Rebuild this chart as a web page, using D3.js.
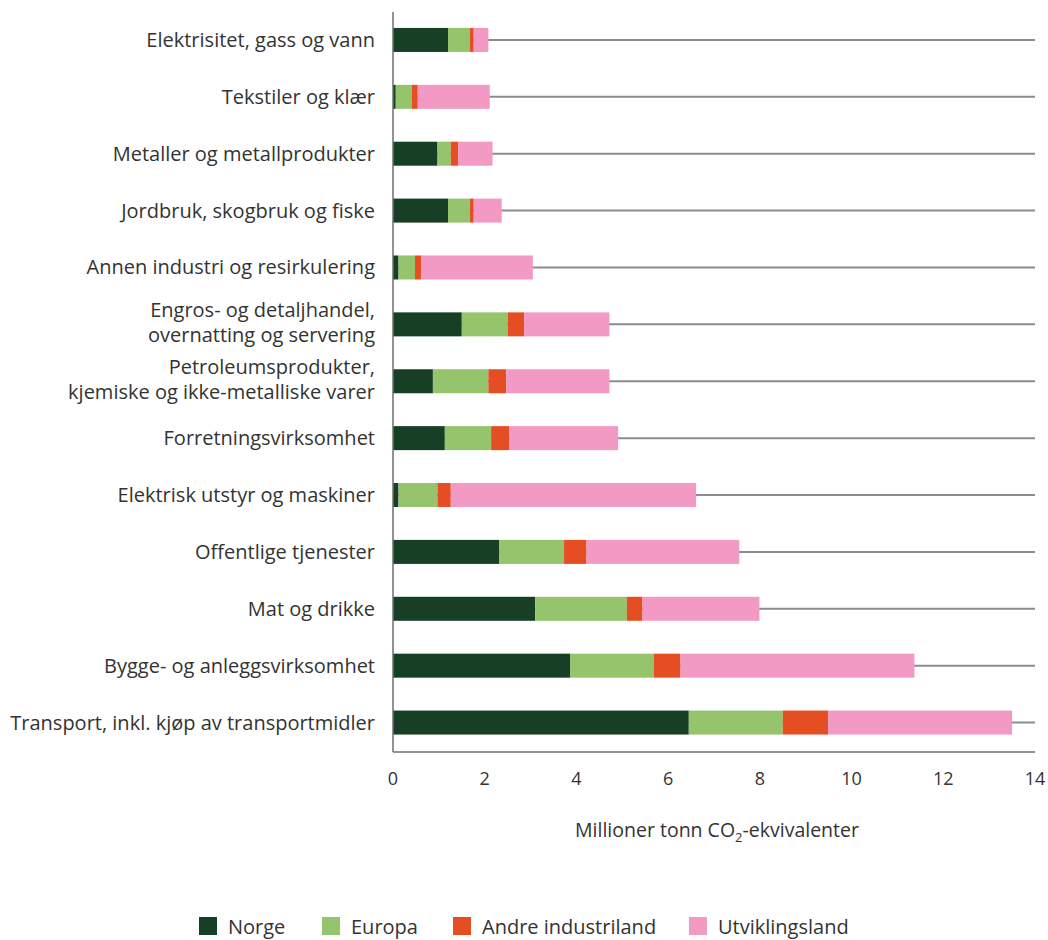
<!DOCTYPE html>
<html>
<head>
<meta charset="utf-8">
<script src="https://cdn.jsdelivr.net/npm/d3@7"></script>
<style>
  body { margin: 0; background: #fff; }
  svg { font-family: "Open Sans", "Noto Sans", sans-serif; }
</style>
</head>
<body>
<svg id="chart" width="1048" height="940"></svg>
<script>
const categories = [
  ["Elektrisitet, gass og vann"],
  ["Tekstiler og klær"],
  ["Metaller og metallprodukter"],
  ["Jordbruk, skogbruk og fiske"],
  ["Annen industri og resirkulering"],
  ["Engros- og detaljhandel,", "overnatting og servering"],
  ["Petroleumsprodukter,", "kjemiske og ikke-metalliske varer"],
  ["Forretningsvirksomhet"],
  ["Elektrisk utstyr og maskiner"],
  ["Offentlige tjenester"],
  ["Mat og drikke"],
  ["Bygge- og anleggsvirksomhet"],
  ["Transport, inkl. kjøp av transportmidler"]
];
const seriesNames = ["Norge", "Europa", "Andre industriland", "Utviklingsland"];
const norge   = [1.20, 0.06, 0.97, 1.20, 0.12, 1.50, 0.87, 1.13, 0.12, 2.32, 3.10, 3.86, 6.45];
const europa  = [0.48, 0.35, 0.29, 0.48, 0.36, 1.00, 1.21, 1.01, 0.85, 1.41, 2.00, 1.83, 2.05];
const andre   = [0.08, 0.13, 0.16, 0.08, 0.13, 0.36, 0.39, 0.40, 0.29, 0.49, 0.34, 0.58, 0.99];
const utvikl  = [0.32, 1.57, 0.75, 0.61, 2.44, 1.86, 2.25, 2.37, 5.35, 3.33, 2.55, 5.10, 4.01];
const xTicks = [0, 2, 4, 6, 8, 10, 12, 14];
const colors = ["#173f26", "#95c46c", "#e54e22", "#f29ac3"];

const svg = d3.select("#chart");
const x = d3.scaleLinear().domain([0, 14]).range([393, 1035]);
const y = d3.scalePoint().domain(d3.range(categories.length)).range([11.5, 751]).padding(0.5);
const barH = 24;
const textColor = "#333";

const rows = categories.map((c, i) => ({
  i, vals: [norge[i], europa[i], andre[i], utvikl[i]]
}));
const stack = d3.stack().keys([0, 1, 2, 3]).value((d, k) => d.vals[k]);
const stacked = stack(rows);

// guide lines
svg.append("g").selectAll("line").data(rows).join("line")
  .attr("x1", x(0)).attr("x2", x(14))
  .attr("y1", d => y(d.i)).attr("y2", d => y(d.i))
  .attr("stroke", "#8c8c8c").attr("stroke-width", 2);

// bars
svg.append("g").selectAll("g").data(stacked).join("g")
  .attr("fill", (d, k) => colors[k])
  .selectAll("rect").data(d => d).join("rect")
  .attr("x", d => x(d[0]))
  .attr("width", d => x(d[1]) - x(d[0]))
  .attr("y", d => y(d.data.i) - barH / 2)
  .attr("height", barH);

// axes lines
svg.append("line").attr("x1", x(0)).attr("x2", x(0)).attr("y1", 12).attr("y2", 752)
  .attr("stroke", "#6e6e6e").attr("stroke-width", 1.5);
svg.append("line").attr("x1", x(0)).attr("x2", x(14)).attr("y1", 752).attr("y2", 752)
  .attr("stroke", "#6e6e6e").attr("stroke-width", 1.5);

// tick labels
svg.append("g").selectAll("text").data(xTicks).join("text")
  .attr("x", d => x(d)).attr("y", 785)
  .attr("text-anchor", "middle").attr("font-size", 18).attr("fill", textColor)
  .text(d => d);

// category labels
const lab = svg.append("g").selectAll("text").data(categories).join("text")
  .attr("text-anchor", "end").attr("font-size", 20).attr("fill", textColor);
lab.each(function(lines, i) {
  const t = d3.select(this);
  const n = lines.length;
  lines.forEach((s, j) => {
    t.append("tspan").attr("x", 375)
      .attr("y", y(i) + (n === 1 ? 7 : 5) + (j - (n - 1) / 2) * 25)
      .text(s);
  });
});

// axis title
const title = svg.append("text").attr("x", 717).attr("y", 837)
  .attr("text-anchor", "middle").attr("font-size", 19.5).attr("fill", textColor);
title.append("tspan").text("Millioner tonn CO");
title.append("tspan").attr("font-size", 13).attr("dy", 5).text("2");
title.append("tspan").attr("dy", -5).text("-ekvivalenter");

// legend
const legendX = [199, 322, 453, 689];
const lg = svg.append("g").selectAll("g").data(seriesNames).join("g")
  .attr("transform", (d, k) => `translate(${legendX[k]},917)`);
lg.append("rect").attr("width", 18).attr("height", 18).attr("fill", (d, k) => colors[k]);
lg.append("text").attr("x", 29).attr("y", 17).attr("font-size", 20).attr("fill", textColor).text(d => d);
</script>
</body>
</html>
